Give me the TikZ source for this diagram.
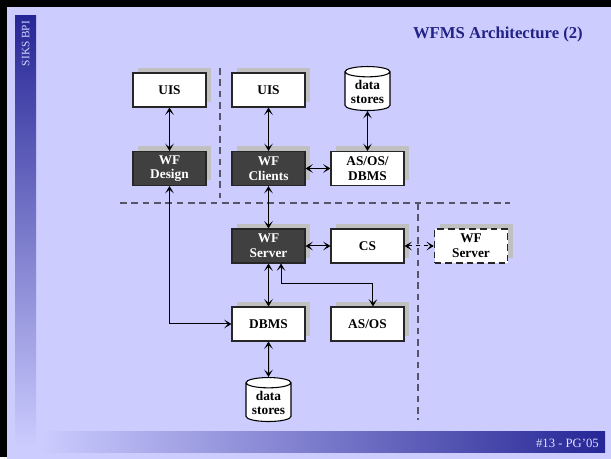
\documentclass[tikz,border=0pt]{standalone}
\usepackage{fontspec}
\setmainfont{Liberation Serif}
\usetikzlibrary{shapes.geometric, shadows, arrows.meta}
\definecolor{slidebg}{RGB}{204,204,255}
\definecolor{slideblue}{RGB}{38,38,150}
\definecolor{shadowgray}{RGB}{192,192,192}
\definecolor{boxdark}{RGB}{64,64,64}
\definecolor{sepgray}{RGB}{85,85,105}

\tikzset{
  wfarrow/.tip={Stealth[length=5.5pt,width=6.5pt,inset=2.8pt]},
  box/.style={draw=black!85, line width=0.8pt, fill=white, minimum width=54.75pt,
    minimum height=25.5pt, inner sep=1pt, align=center,
    font=\fontsize{10}{11}\selectfont\bfseries,
    general shadow={fill=shadowgray, shadow xshift=3.75pt, shadow yshift=4.1pt}},
  darkbox/.style={box, fill=boxdark, text=white},
  remotebox/.style={box, dash pattern=on 5pt off 3pt, line width=1pt},
  store/.style={cylinder, shape border rotate=90, draw=black, line width=0.8pt, fill=white,
    aspect=0.3, minimum width=33.75pt, minimum height=33pt, inner sep=0.5pt, align=center,
    font=\fontsize{10}{11}\selectfont\bfseries},
  conn/.style={wfarrow-wfarrow, line width=0.75pt},
  sep/.style={sepgray, line width=1.1pt, dash pattern=on 5pt off 3.5pt}
}

\begin{document}
\begin{tikzpicture}[x=0.75pt, y=-0.75pt]
    % slide
    \useasboundingbox (0,0) rectangle (611,459);
    \fill[white] (0,0) rectangle (611,459);
    \fill[black] (0,0) rectangle (611,457);
    \fill[slidebg] (7,7) rectangle (611,459);
    \shade[top color=slideblue, bottom color=slidebg] (15,16) rectangle (36,447);
    \shade[left color=slidebg, right color=slideblue] (40,432) rectangle (605,453);
    \node[rotate=90, text=slidebg!80!white, font=\fontsize{8.5}{9}\selectfont] (side) at (25.7,43.5) {SIKS BPI};
    \node[anchor=east, text=slidebg!60!white, font=\fontsize{9.5}{11}\selectfont, inner sep=0pt] (foot) at (599,443) {\#13 - PG'05};
    \node[anchor=east, text=slideblue!90!black, font=\fontsize{12.5}{14}\selectfont\bfseries, inner sep=0pt] (title) at (583,34) {WFMS Architecture (2)};

    % separators
    \draw[sep] (220,68) -- (220,198);
    \draw[sep] (120,203) -- (510,203);
    \draw[sep] (418,203) -- (418,420);

    % components
    \node[box] (uisD) at (169.5,90) {UIS};
    \node[box] (uisC) at (268.5,90) {UIS};
    \node[store] (dsTop) at (367.5,92) {data\\stores};
    \node[darkbox] (wfDesign) at (169.5,168.5) {WF\\Design};
    \node[darkbox] (wfClients) at (268.5,168.5) {WF\\Clients};
    \node[box] (asosdbms) at (367.5,168.5) {AS/OS/\\DBMS};
    \node[darkbox] (wfServer) at (268.5,246) {WF\\Server};
    \node[box] (cs) at (367.5,246) {CS};
    \node[remotebox] (wfRemote) at (471,246) {WF\\Server};
    \node[box] (dbms) at (268.5,324) {DBMS};
    \node[box] (asos) at (367.5,324) {AS/OS};
    \node[store] (dsBottom) at (268.5,403) {data\\stores};

    % connections
    \draw[conn] (uisD) -- (wfDesign);
    \draw[conn] (uisC) -- (wfClients);
    \draw[conn] (dsTop.south) -- (asosdbms.north);
    \draw[conn] (wfClients) -- (asosdbms);
    \draw[conn] (wfClients) -- (wfServer);
    \draw[conn] (wfServer) -- (cs);
    \draw[conn, dashed] (cs) -- (wfRemote);
    \draw[conn] (wfServer) -- (dbms);
    \draw[conn] ([xshift=9.4pt]wfServer.south) -- ++(0,20) -| ([xshift=4.1pt]asos.north);
    \draw[conn] (wfDesign.south) |- (dbms.west);
    \draw[conn] (dbms) -- (dsBottom.north);
\end{tikzpicture}
\end{document}
